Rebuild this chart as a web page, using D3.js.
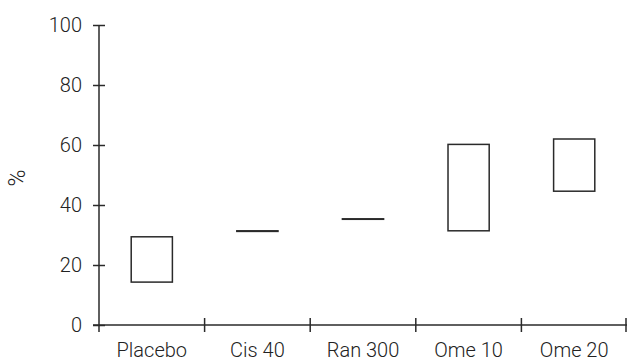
<!DOCTYPE html>
<html>
<head>
<meta charset="utf-8">
<script src="https://cdn.jsdelivr.net/npm/d3@7"></script>
<style>
  body { margin: 0; background: #fff; }
  text { font-family: Roboto, "Liberation Sans", sans-serif; font-weight: 300; fill: #222; }
</style>
</head>
<body>
<div id="chart"></div>
<script>
const categories = ["Placebo", "Cis 40", "Ran 300", "Ome 10", "Ome 20"];
const lows  = [14.3, 31.2, 35.3, 31.4, 44.6];
const highs = [29.4, 31.4, 35.4, 60.2, 62.0];
const yTicks = [0, 20, 40, 60, 80, 100];

const width = 627, height = 364;
const margin = { top: 25, right: 0, bottom: 39, left: 99 };
const ink = "#2a2a2a";
const fontSize = "20px";

const svg = d3.select("#chart").append("svg")
  .attr("width", width).attr("height", height);

let x = d3.scaleBand().domain(categories).range([margin.left, 627]).padding(0);
let y = d3.scaleLinear().domain([0, 100]).range([height - margin.bottom, margin.top]);

// y axis
const yAxis = svg.append("g")
  .attr("transform", "translate(" + margin.left + ",0)")
  .call(d3.axisLeft(y).tickValues(yTicks).tickSize(6).tickPadding(11));
yAxis.select(".domain").attr("d", "M0," + y(100) + "V" + (y(0) + 7)).attr("stroke", ink).attr("stroke-width", 1.5);
yAxis.selectAll(".tick line").attr("x1", -6).attr("x2", 6).attr("stroke", ink).attr("stroke-width", 1.5);
yAxis.selectAll(".tick text")
  .style("font-size", fontSize).style("font-family", "Roboto, 'Liberation Sans', sans-serif")
  .style("font-weight", 300).attr("fill", ink);

// x axis: labels at band centres, ticks on band edges
const xAxis = svg.append("g")
  .attr("transform", "translate(0," + y(0) + ")")
  .call(d3.axisBottom(x).tickSize(0).tickPadding(18));
xAxis.select(".domain").attr("d", "M" + (margin.left - 6) + ",0H627").attr("stroke", ink).attr("stroke-width", 1.5);
xAxis.selectAll(".tick text")
  .style("font-size", fontSize).style("font-family", "Roboto, 'Liberation Sans', sans-serif")
  .style("font-weight", 300).attr("fill", ink);

xAxis.selectAll(".edge")
  .data(categories)
  .enter().append("line")
  .attr("class", "edge")
  .attr("x1", d => Math.min(x(d) + x.bandwidth(), 626))
  .attr("x2", d => Math.min(x(d) + x.bandwidth(), 626))
  .attr("y1", -7).attr("y2", 7)
  .attr("stroke", ink).attr("stroke-width", 1.5);

// y label
svg.append("text")
  .attr("transform", "translate(25,178) rotate(-90)")
  .attr("text-anchor", "middle")
  .style("font-size", "23px")
  .text("%");

// boxes
const boxW = x.bandwidth() * 0.39;
svg.selectAll(".box")
  .data(categories)
  .enter().append("rect")
  .attr("class", "box")
  .attr("x", d => x(d) + (x.bandwidth() - boxW) / 2)
  .attr("width", boxW)
  .attr("y", (d, i) => y(highs[i]))
  .attr("height", (d, i) => Math.max(y(lows[i]) - y(highs[i]), 0.5))
  .attr("fill", "none")
  .attr("stroke", ink)
  .attr("stroke-width", 1.5);
</script>
</body>
</html>
